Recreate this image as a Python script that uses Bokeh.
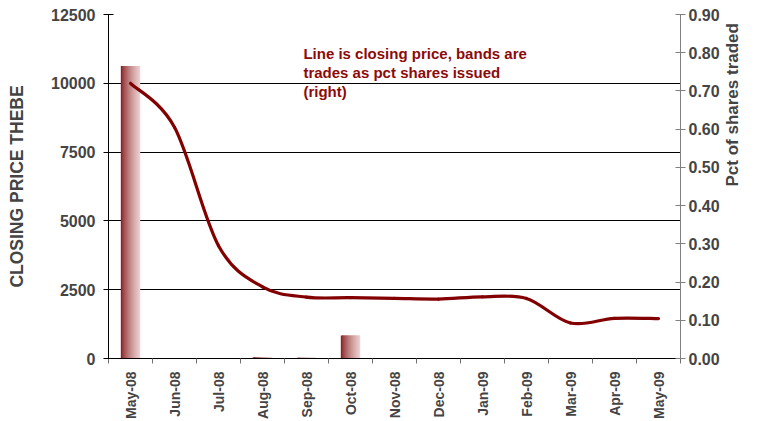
import math
from bokeh.plotting import figure
from bokeh.models import (Range1d, LinearAxis, FixedTicker, NumeralTickFormatter,
                          ColumnDataSource, Label)
from bokeh.embed import file_html
from bokeh.resources import INLINE

# ---------------- data ----------------
months = ["May-08", "Jun-08", "Jul-08", "Aug-08", "Sep-08", "Oct-08", "Nov-08",
          "Dec-08", "Jan-09", "Feb-09", "Mar-09", "Apr-09", "May-09"]
closing_price = [10000, 8400, 4100, 2600, 2230, 2210, 2185, 2160, 2240, 2180, 1290, 1460, 1450]
pct_traded = [0.765, 0.0, 0.0, 0.003, 0.002, 0.060, 0.0, 0.0, 0.0, 0.0, 0.0, 0.0, 0.0]
price_ticks = [0, 2500, 5000, 7500, 10000, 12500]
pct_ticks = [0.0, 0.1, 0.2, 0.3, 0.4, 0.5, 0.6, 0.7, 0.8, 0.9]
note_lines = ["Line is closing price, bands are", "trades as pct shares issued", "(right)"]
left_title = "CLOSING PRICE THEBE"
right_title = "Pct of shares traded"

FONT = "Liberation Sans"
LINE_RED = "#820000"
TEXT_RED = "#8c0a0a"

p = figure(width=769, height=421, output_backend="svg", toolbar_location=None,
           x_range=Range1d(-0.5, len(months) - 0.5), y_range=Range1d(0, 12500),
           min_border_left=108, min_border_right=89, min_border_top=14, min_border_bottom=63)
p.outline_line_color = None
p.background_fill_color = "white"
p.border_fill_color = "white"
p.extra_y_ranges = {"pct": Range1d(0, 0.9)}

# grid
p.xgrid.visible = False
p.ygrid.ticker = FixedTicker(ticks=price_ticks[1:-1])
p.ygrid.grid_line_color = "black"
p.ygrid.grid_line_width = 1.2

# left axis
ya = p.yaxis[0]
ya.ticker = FixedTicker(ticks=price_ticks)
ya.axis_label = left_title
ya.axis_label_text_font = FONT
ya.axis_label_text_font_style = "bold"
ya.axis_label_text_font_size = "17.5px"
ya.axis_label_standoff = 21
ya.major_label_text_font = FONT
ya.major_label_text_font_style = "bold"
ya.major_label_text_font_size = "16px"
ya.major_label_standoff = 8
ya.major_tick_in = 5
ya.major_tick_out = 5
ya.minor_tick_line_color = None
ya.axis_line_color = "black"
ya.major_tick_line_color = "black"

# right axis
ra = LinearAxis(y_range_name="pct", ticker=FixedTicker(ticks=pct_ticks),
                formatter=NumeralTickFormatter(format="0.00"))
ra.axis_label = right_title
ra.axis_label_orientation = math.pi / 2
ra.axis_label_text_font = FONT
ra.axis_label_text_font_style = "bold"
ra.axis_label_text_font_size = "17px"
ra.axis_label_standoff = 10
ra.major_label_text_font = FONT
ra.major_label_text_font_style = "bold"
ra.major_label_text_font_size = "16px"
ra.major_label_standoff = 3
ra.major_tick_in = 5
ra.major_tick_out = 5
ra.minor_tick_line_color = None
ra.axis_line_color = "#808080"
ra.major_tick_line_color = "#808080"
p.add_layout(ra, "right")

# bottom axis
xa = p.xaxis[0]
xa.ticker = FixedTicker(ticks=list(range(len(months))),
                        minor_ticks=[i - 0.5 for i in range(len(months) + 1)])
xa.major_label_overrides = {i: m for i, m in enumerate(months)}
xa.major_label_orientation = math.pi / 2
xa.major_label_text_font = FONT
xa.major_label_text_font_style = "bold"
xa.major_label_text_font_size = "14px"
xa.major_label_standoff = 8
xa.major_tick_in = 0
xa.major_tick_out = 0
xa.major_tick_line_color = None
xa.minor_tick_in = 0
xa.minor_tick_out = 5
xa.minor_tick_line_color = "#707070"
xa.axis_line_color = "black"

# gradient bars (left dark red -> right light pink)
bar_w = 0.44
n_slices = 16
c0 = (125, 15, 15)
c1 = (238, 212, 212)
ql, qr, qt, qc = [], [], [], []
for i, v in enumerate(pct_traded):
    if v <= 0:
        continue
    for k in range(n_slices):
        t = (k + 0.5) / n_slices
        g = t ** 0.65
        col = "#%02x%02x%02x" % tuple(int(round(a + (b - a) * g)) for a, b in zip(c0, c1))
        left = i - bar_w / 2 + k * bar_w / n_slices
        right = left + bar_w / n_slices
        if k < n_slices - 1:
            right += 0.025
        ql.append(left)
        qr.append(right)
        qt.append(v)
        qc.append(col)
p.quad(left=ql, right=qr, bottom=0, top=qt, fill_color=qc, line_color=None,
       y_range_name="pct")

# smoothed closing price line (Catmull-Rom bezier through the data points)
xs = list(range(len(closing_price)))
ys = closing_price
n = len(xs)
bx0, by0, bx1, by1, cx0, cy0, cx1, cy1 = [], [], [], [], [], [], [], []
for i in range(n - 1):
    xm, ym = (xs[i - 1], ys[i - 1]) if i > 0 else (xs[i], ys[i])
    xp, yp = (xs[i + 2], ys[i + 2]) if i + 2 < n else (xs[i + 1], ys[i + 1])
    bx0.append(xs[i]); by0.append(ys[i])
    bx1.append(xs[i + 1]); by1.append(ys[i + 1])
    cx0.append(xs[i] + (xs[i + 1] - xm) / 6); cy0.append(ys[i] + (ys[i + 1] - ym) / 6)
    cx1.append(xs[i + 1] - (xp - xs[i]) / 6); cy1.append(ys[i + 1] - (yp - ys[i]) / 6)
src = ColumnDataSource(dict(x0=bx0, y0=by0, x1=bx1, y1=by1,
                            cx0=cx0, cy0=cy0, cx1=cx1, cy1=cy1))
p.bezier(x0="x0", y0="y0", x1="x1", y1="y1", cx0="cx0", cy0="cy0", cx1="cx1", cy1="cy1",
         source=src, line_color=LINE_RED, line_width=3.2, line_cap="round")

# note text
for k, txt in enumerate(note_lines):
    p.add_layout(Label(x=3.93, y=11094 - 692 * k, text=txt, text_font=FONT,
                       text_font_style="bold", text_font_size="15px",
                       text_color=TEXT_RED, text_baseline="alphabetic"))

open("out.html", "w").write(file_html(p, INLINE))
